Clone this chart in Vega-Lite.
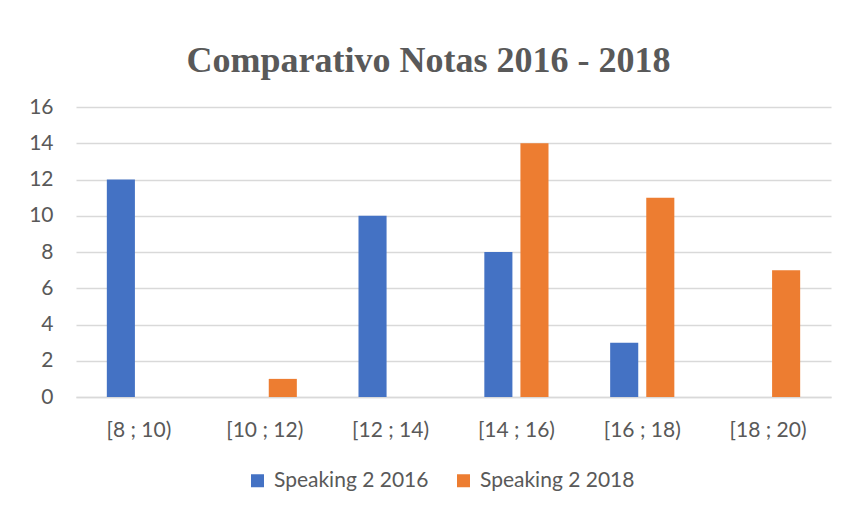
{
  "$schema": "https://vega.github.io/schema/vega-lite/v6.json",
  "width": 755,
  "height": 290,
  "autosize": {"type": "none"},
  "padding": {"left": 76, "top": 107, "right": 16, "bottom": 117},
  "background": "white",
  "title": {
    "text": "Comparativo Notas 2016 - 2018",
    "font": "Liberation Serif",
    "fontWeight": "bold",
    "fontSize": 36,
    "color": "#595959",
    "anchor": "middle",
    "baseline": "alphabetic",
    "offset": 35,
    "dx": -25,
    "dy": 47
  },
  "data": {
    "values": [
      {"rango": "[8 ; 10)", "serie": "Speaking 2 2016", "valor": 12},
      {"rango": "[8 ; 10)", "serie": "Speaking 2 2018", "valor": 0},
      {"rango": "[10 ; 12)", "serie": "Speaking 2 2016", "valor": 0},
      {"rango": "[10 ; 12)", "serie": "Speaking 2 2018", "valor": 1},
      {"rango": "[12 ; 14)", "serie": "Speaking 2 2016", "valor": 10},
      {"rango": "[12 ; 14)", "serie": "Speaking 2 2018", "valor": 0},
      {"rango": "[14 ; 16)", "serie": "Speaking 2 2016", "valor": 8},
      {"rango": "[14 ; 16)", "serie": "Speaking 2 2018", "valor": 14},
      {"rango": "[16 ; 18)", "serie": "Speaking 2 2016", "valor": 3},
      {"rango": "[16 ; 18)", "serie": "Speaking 2 2018", "valor": 11},
      {"rango": "[18 ; 20)", "serie": "Speaking 2 2016", "valor": 0},
      {"rango": "[18 ; 20)", "serie": "Speaking 2 2018", "valor": 7}
    ]
  },
  "mark": {"type": "bar"},
  "encoding": {
    "x": {
      "field": "rango",
      "type": "nominal",
      "sort": null,
      "scale": {"paddingInner": 0.49, "paddingOuter": 0.245},
      "axis": {
        "title": null,
        "labelAngle": 0,
        "labelFont": "Lato",
        "labelFontSize": 21,
        "labelColor": "#595959",
        "labelPadding": 22,
        "ticks": false,
        "tickSize": 0,
        "domainColor": "#d9d9d9",
        "domainWidth": 1.5,
        "grid": false
      }
    },
    "xOffset": {
      "field": "serie",
      "type": "nominal",
      "scale": {"paddingInner": 0.222, "paddingOuter": 0}
    },
    "y": {
      "field": "valor",
      "type": "quantitative",
      "scale": {"domain": [0, 16]},
      "axis": {
        "title": null,
        "values": [0, 2, 4, 6, 8, 10, 12, 14, 16],
        "labelFont": "Lato",
        "labelFontSize": 21,
        "labelColor": "#595959",
        "labelPadding": 23,
        "ticks": false,
        "tickSize": 0,
        "domain": false,
        "gridColor": "#d9d9d9",
        "gridWidth": 1.5
      }
    },
    "color": {
      "field": "serie",
      "type": "nominal",
      "scale": {"range": ["#4472C4", "#ED7D31"]},
      "legend": {
        "title": null,
        "orient": "none",
        "direction": "horizontal",
        "legendX": 171,
        "legendY": 363,
        "symbolType": "square",
        "symbolSize": 169,
        "symbolStrokeWidth": 0,
        "labelFont": "Lato",
        "labelFontSize": 21,
        "labelColor": "#595959",
        "labelOffset": 6,
        "columnPadding": 24
      }
    }
  },
  "config": {
    "view": {"stroke": null}
  }
}
